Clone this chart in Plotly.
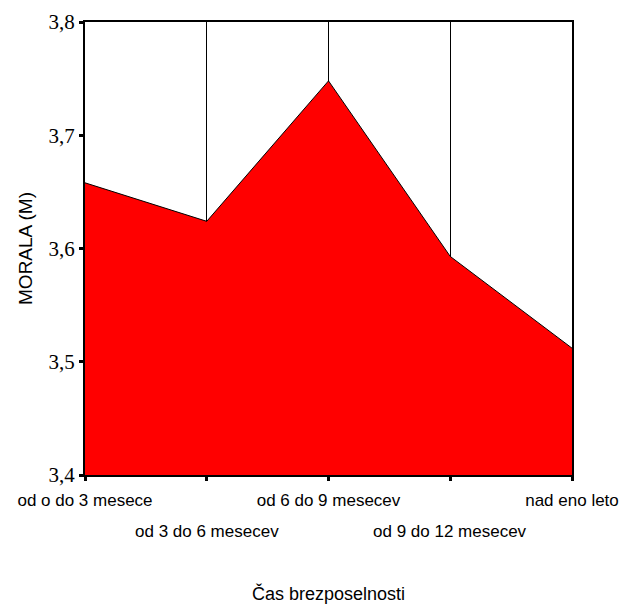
import plotly.graph_objects as go

# Čas brezposelnosti -> povprečna MORALA (M)
kategorije = ["od o do 3 mesece", "od 3 do 6 mesecev", "od 6 do 9 mesecev",
              "od 9 do 12 mesecev", "nad eno leto"]
morala = [3.658, 3.624, 3.748, 3.593, 3.512]
y_ticks = [3.4, 3.5, 3.6, 3.7, 3.8]

pos = list(range(len(kategorije)))
# labels alternate between two rows, like the original SPSS output
row1 = [k if i % 2 == 0 else "" for i, k in enumerate(kategorije)]
row2 = [(i, k) for i, k in enumerate(kategorije) if i % 2 == 1]

sans = "Liberation Sans, Arial"

fig = go.Figure()
fig.add_trace(go.Scatter(
    x=pos, y=morala,
    mode="lines", fill="tozeroy",
    fillcolor="#ff0000", line=dict(color="black", width=1),
    hoverinfo="skip", showlegend=False,
))

# second row of category labels
for i, k in row2:
    fig.add_annotation(
        x=i, xref="x", y=0, yref="paper",
        text=k, showarrow=False,
        yanchor="top", yshift=-45,
        font=dict(size=17, family=sans),
    )

# page body has an 8px margin, so the figure is offset by 8px
fig.update_layout(
    width=627, height=596,
    margin=dict(l=77, r=63, t=14, b=129),
    plot_bgcolor="white", paper_bgcolor="white",
    separators=", ",
    font=dict(family=sans, color="black"),
    xaxis=dict(
        range=[0, len(kategorije) - 1],
        tickvals=pos, ticktext=row1,
        tickangle=0, automargin=False, ticklabeloverflow="allow",
        tickfont=dict(size=17, family=sans),
        ticks="outside", ticklen=4, tickwidth=3, tickcolor="black",
        ticklabelstandoff=5,
        showgrid=True, gridcolor="black", gridwidth=1,
        showline=True, linecolor="black", linewidth=2, mirror=True,
        zeroline=False,
        title=dict(text="Čas brezposelnosti", font=dict(size=18, family=sans), standoff=80),
    ),
    yaxis=dict(
        range=[3.4, 3.8], tickvals=y_ticks, tickformat=".1f",
        automargin=False,
        tickfont=dict(size=21, family="Liberation Serif, Times New Roman, serif"),
        ticks="outside", ticklen=4, tickwidth=3, tickcolor="black",
        showgrid=False,
        showline=True, linecolor="black", linewidth=2, mirror=True,
        zeroline=False,
        title=dict(text="MORALA (M)", font=dict(size=19, family=sans), standoff=11),
    ),
)

fig.write_html("out.html")
